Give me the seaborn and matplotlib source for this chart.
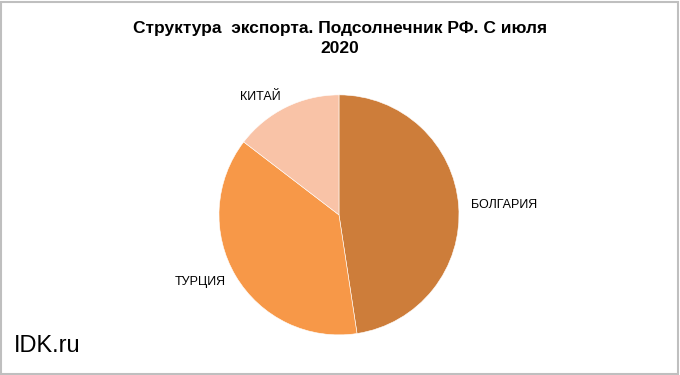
import matplotlib
matplotlib.use("Agg")
import matplotlib.pyplot as plt
import seaborn as sns
from matplotlib.patches import Rectangle

# Данные
strany = ["БОЛГАРИЯ", "ТУРЦИЯ", "КИТАЙ"]
doli = [47.6, 37.8, 14.6]
cveta = ["#CD7D3A", "#F79848", "#F9C3A7"]

sns.set_theme(style="white")
plt.rcParams['font.family'] = ['Liberation Sans', 'DejaVu Sans']

fig = plt.figure(figsize=(6.8, 3.75), dpi=100)
ax = fig.add_axes([0.322, 0.107, 0.353, 0.64])

wedges, texts = ax.pie(doli, labels=strany, colors=cveta, startangle=90,
                       counterclock=False, labeldistance=1.1,
                       wedgeprops=dict(linewidth=0.4, edgecolor="white"),
                       textprops=dict(fontsize=9, color="black"))
ax.set_xlim(-1, 1)
ax.set_ylim(-1, 1)
ax.set_aspect("equal")
for t in texts:
    t.set_clip_on(False)

fig.text(0.5, 0.945, "Структура  экспорта. Подсолнечник РФ. С июля\n2020",
         ha="center", va="top", fontsize=12.5, fontweight="bold",
         color="black", linespacing=1.45)

fig.text(0.02, 0.078, "IDK.ru", fontsize=17, ha="left", va="center",
         color="black")

# рамка
fig.patches.append(Rectangle((0.002, 0.003), 0.995, 0.993, transform=fig.transFigure,
                             fill=False, edgecolor="#BFBFBF", linewidth=1.5))

plt.savefig("out.png", dpi=100)
